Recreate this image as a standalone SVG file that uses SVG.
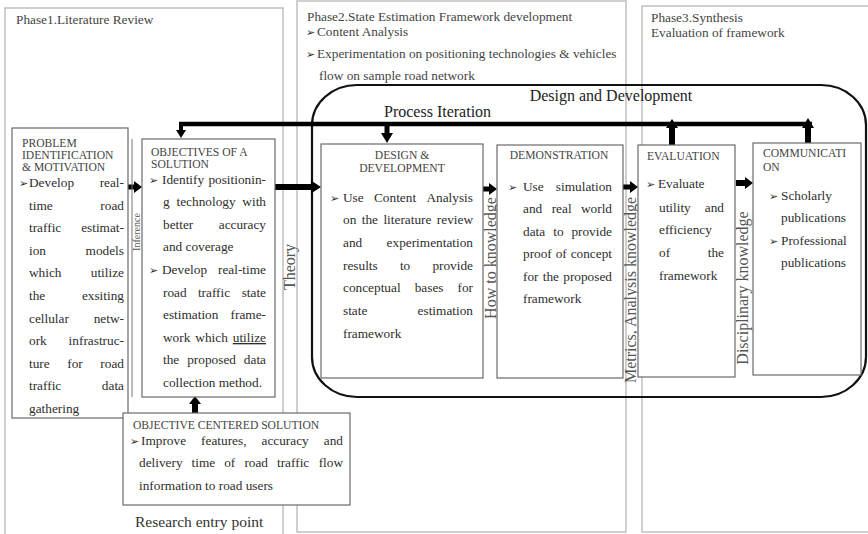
<svg xmlns="http://www.w3.org/2000/svg" width="868" height="534" viewBox="0 0 868 534">
  <defs>
    <style>
      text { font-family: "Liberation Serif", "Times New Roman", serif; fill: #2e2e2e; }
      .t { font-size: 13.3px; }
      .e { font-size: 13.3px; text-anchor: end; }
      .h { font-size: 11.6px; fill: #444; }
      .hc { font-size: 11.6px; fill: #444; text-anchor: middle; }
      .bl { font-family: "DejaVu Sans", sans-serif; font-size: 11px; fill: #2e2e2e; }
      .ph-t { font-size: 13.3px; fill: #444; }
      .lab { font-size: 16px; fill: #555; text-anchor: middle; }
      .phase { fill: none; stroke: #c4c4c4; stroke-width: 1.6; }
      .box { fill: #fff; stroke: #6a6a6a; stroke-width: 1.2; }
      .arrow { fill: #000; }
      .bar { stroke: #000; fill: none; }
    </style>
  </defs>

  <rect x="0" y="0" width="868" height="534" fill="#fff"/>

  <!-- three phase panels -->
  <g id="phases">
    <rect class="phase" x="5" y="8" width="278" height="540"/>
    <rect class="phase" x="297" y="1" width="329" height="531"/>
    <rect class="phase" x="642" y="6" width="232" height="526"/>
    <text class="ph-t" x="16" y="24">Phase1.Literature Review</text>
    <text class="ph-t" x="307" y="21">Phase2.State Estimation Framework development</text>
    <text class="bl" x="306" y="36">➢</text>
    <text class="ph-t" x="317" y="36">Content Analysis</text>
    <text class="bl" x="306" y="58">➢</text>
    <text class="ph-t" x="317" y="58">Experimentation on positioning technologies &amp; vehicles</text>
    <text class="ph-t" x="319" y="80">flow on sample road network</text>
    <text class="ph-t" x="651" y="22">Phase3.Synthesis</text>
    <text class="ph-t" x="651" y="37">Evaluation of framework</text>
  </g>

  <!-- design and development envelope -->
  <g id="design-envelope">
    <rect x="312" y="85" width="554" height="312" rx="45" ry="40" fill="none" stroke="#111" stroke-width="2.2"/>
    <text x="611" y="101" style="font-size:16px;fill:#222;text-anchor:middle">Design and Development</text>
    <text x="384" y="117" style="font-size:16px;fill:#222">Process Iteration</text>
  </g>

  <!-- connectors -->
  <g id="connectors">
    <!-- process iteration loop -->
    <line class="bar" x1="179" y1="124" x2="812" y2="124" stroke-width="4.5"/>
    <line class="bar" x1="181" y1="122" x2="181" y2="131" stroke-width="4"/>
    <polygon class="arrow" points="176,130 186,130 181,138"/>
    <line class="bar" x1="387" y1="122" x2="387" y2="134" stroke-width="5"/>
    <polygon class="arrow" points="381,133 393,133 387,143"/>
    <line class="bar" x1="672" y1="145" x2="672" y2="127" stroke-width="6"/>
    <polygon class="arrow" points="666,128 678,128 672,119"/>
    <line class="bar" x1="808" y1="143" x2="808" y2="127" stroke-width="6"/>
    <polygon class="arrow" points="802,128 814,128 808,118"/>
    <!-- forward flow -->
    <polygon class="arrow" points="128,184.5 134,184.5 134,181 142,187 134,193 134,189.5 128,189.5"/>
    <polygon class="arrow" points="275,184 311,184 311,180.5 321,187 311,193.5 311,190 275,190"/>
    <polygon class="arrow" points="483,186.5 489,186.5 489,183 497,189 489,195 489,191.5 483,191.5"/>
    <polygon class="arrow" points="623,184.5 630,184.5 630,181 638,187 630,193 630,189.5 623,189.5"/>
    <polygon class="arrow" points="736,180 745,180 745,177 753,183 745,189 745,186 736,186"/>
    <polygon class="arrow" points="192,413 192,404 189,404 195,396 201,404 198,404 198,413"/>
    <!-- edge labels -->
    <line x1="132" y1="139" x2="132" y2="397" stroke="#777" stroke-width="1"/>
    <text transform="translate(140,232) rotate(-90)" style="font-size:10px;fill:#555;text-anchor:middle">Inference</text>
    <text class="lab" transform="translate(294.5,267) rotate(-90)">Theory</text>
    <text class="lab" transform="translate(495.5,258) rotate(-90)">How to knowledge</text>
    <text class="lab" transform="translate(635.5,290) rotate(-90)">Metrics, Analysis knowledge</text>
    <text class="lab" transform="translate(747.5,288) rotate(-90)">Disciplinary knowledge</text>
  </g>

  <g id="problem">
    <rect class="box" x="12" y="128" width="116" height="290"/>
    <text class="h"><tspan x="22" y="147">PROBLEM</tspan><tspan x="22" y="159">IDENTIFICATION</tspan><tspan x="22" y="171">&amp; MOTIVATION</tspan></text>
    <text class="bl" x="19" y="187">➢</text>
    <text class="t" x="29" y="187">Develop</text><text class="e" x="124" y="187">real-</text>
    <text class="t" x="29" y="210">time</text><text class="e" x="124" y="210">road</text>
    <text class="t" x="29" y="232">traffic</text><text class="e" x="124" y="232">estimat-</text>
    <text class="t" x="29" y="255">ion</text><text class="e" x="124" y="255">models</text>
    <text class="t" x="29" y="277">which</text><text class="e" x="124" y="277">utilize</text>
    <text class="t" x="29" y="300">the</text><text class="e" x="124" y="300">exsiting</text>
    <text class="t" x="29" y="323">cellular</text><text class="e" x="124" y="323">netw-</text>
    <text class="t" x="29" y="345">ork</text><text class="e" x="124" y="345">infrastruc-</text>
    <text class="t" x="29" y="368">ture</text><text class="t" x="67.3" y="368">for</text><text class="e" x="124" y="368">road</text>
    <text class="t" x="29" y="390">traffic</text><text class="e" x="124" y="390">data</text>
    <text class="t" x="29" y="413">gathering</text>
  </g>

  <g id="objectives">
    <rect class="box" x="142" y="139" width="133" height="258"/>
    <text class="h"><tspan x="151" y="156">OBJECTIVES OF A</tspan><tspan x="151" y="168">SOLUTION</tspan></text>
    <text class="bl" x="149" y="184">➢</text>
    <text class="t" x="162" y="184">Identify</text><text class="e" x="266" y="184">positionin-</text>
    <text class="t" x="163" y="206">g</text><text class="t" x="176.5" y="206">technology</text><text class="e" x="266" y="206">with</text>
    <text class="t" x="163" y="229">better</text><text class="e" x="266" y="229">accuracy</text>
    <text class="t" x="163" y="251">and coverage</text>
    <text class="bl" x="149" y="274">➢</text>
    <text class="t" x="162" y="274">Develop</text><text class="e" x="266" y="274">real-time</text>
    <text class="t" x="163" y="297">road</text><text class="t" x="197.9" y="297">traffic</text><text class="e" x="266" y="297">state</text>
    <text class="t" x="163" y="319">estimation</text><text class="e" x="266" y="319">frame-</text>
    <text class="t" x="163" y="342">work</text><text class="t" x="195.3" y="342">which</text><text class="e" x="266" y="342" text-decoration="underline">utilize</text>
    <text class="t" x="163" y="364">the</text><text class="t" x="187.2" y="364">proposed</text><text class="e" x="266" y="364">data</text>
    <text class="t" x="163" y="387">collection method.</text>
  </g>

  <g id="design">
    <rect class="box" x="321" y="144" width="162" height="234"/>
    <text class="hc"><tspan x="402" y="159">DESIGN &amp;</tspan><tspan x="402" y="172">DEVELOPMENT</tspan></text>
    <text class="bl" x="330" y="202">➢</text>
    <text class="t" x="343" y="202">Use</text><text class="t" x="374" y="202">Content</text><text class="e" x="473" y="202">Analysis</text>
    <text class="t" x="343" y="224">on</text><text class="t" x="361.7" y="224">the</text><text class="t" x="383.4" y="224">literature</text><text class="e" x="473" y="224">review</text>
    <text class="t" x="343" y="247">and</text><text class="e" x="473" y="247">experimentation</text>
    <text class="t" x="343" y="270">results</text><text class="t" x="399.9" y="270">to</text><text class="e" x="473" y="270">provide</text>
    <text class="t" x="343" y="292">conceptual</text><text class="t" x="414.7" y="292">bases</text><text class="e" x="473" y="292">for</text>
    <text class="t" x="343" y="315">state</text><text class="e" x="473" y="315">estimation</text>
    <text class="t" x="343" y="338">framework</text>
  </g>

  <g id="demonstration">
    <rect class="box" x="497" y="145" width="126" height="233"/>
    <text class="hc" x="559" y="159">DEMONSTRATION</text>
    <text class="bl" x="508" y="191">➢</text>
    <text class="t" x="523" y="191">Use</text><text class="e" x="612" y="191">simulation</text>
    <text class="t" x="523" y="213">and</text><text class="t" x="551.7" y="213">real</text><text class="e" x="612" y="213">world</text>
    <text class="t" x="523" y="236">data</text><text class="t" x="553.2" y="236">to</text><text class="e" x="612" y="236">provide</text>
    <text class="t" x="523" y="258">proof</text><text class="t" x="555.7" y="258">of</text><text class="e" x="612" y="258">concept</text>
    <text class="t" x="523" y="281">for</text><text class="t" x="542.7" y="281">the</text><text class="e" x="612" y="281">proposed</text>
    <text class="t" x="523" y="303">framework</text>
  </g>

  <g id="evaluation">
    <rect class="box" x="638" y="145" width="97" height="232"/>
    <text class="h" x="647" y="160">EVALUATION</text>
    <text class="bl" x="646" y="188">➢</text>
    <text class="t" x="658" y="188">Evaluate</text>
    <text class="t" x="659" y="212">utility</text><text class="e" x="724" y="212">and</text>
    <text class="t" x="659" y="234">efficiency</text>
    <text class="t" x="659" y="257">of</text><text class="e" x="724" y="257">the</text>
    <text class="t" x="659" y="280">framework</text>
  </g>

  <g id="communication">
    <rect class="box" x="753" y="143" width="108" height="232"/>
    <text class="h"><tspan x="763" y="157">COMMUNICATI</tspan><tspan x="763" y="171">ON</tspan></text>
    <text class="bl" x="769" y="200">➢</text>
    <text class="t" x="781" y="200">Scholarly</text>
    <text class="t" x="781" y="222">publications</text>
    <text class="bl" x="769" y="245">➢</text>
    <text class="t" x="781" y="245">Professional</text>
    <text class="t" x="781" y="267">publications</text>
  </g>

  <g id="objective-centered">
    <rect class="box" x="123" y="413" width="227" height="92"/>
    <text class="h" x="133" y="429">OBJECTIVE CENTERED SOLUTION</text>
    <text class="bl" x="130" y="445">➢</text>
    <text class="t" x="141" y="445">Improve</text><text class="t" x="201.1" y="445">features,</text><text class="t" x="261.5" y="445">accuracy</text><text class="e" x="343" y="445">and</text>
    <text class="t" x="139" y="467">delivery</text><text class="t" x="191.6" y="467">time</text><text class="t" x="224.2" y="467">of</text><text class="t" x="244.4" y="467">road</text><text class="t" x="277" y="467">traffic</text><text class="e" x="343" y="467">flow</text>
    <text class="t" x="139" y="490">information to road users</text>
  </g>

  <g id="entry-point">
    <text x="135" y="527" style="font-size:15.5px;fill:#333">Research entry point</text>
  </g>
</svg>
